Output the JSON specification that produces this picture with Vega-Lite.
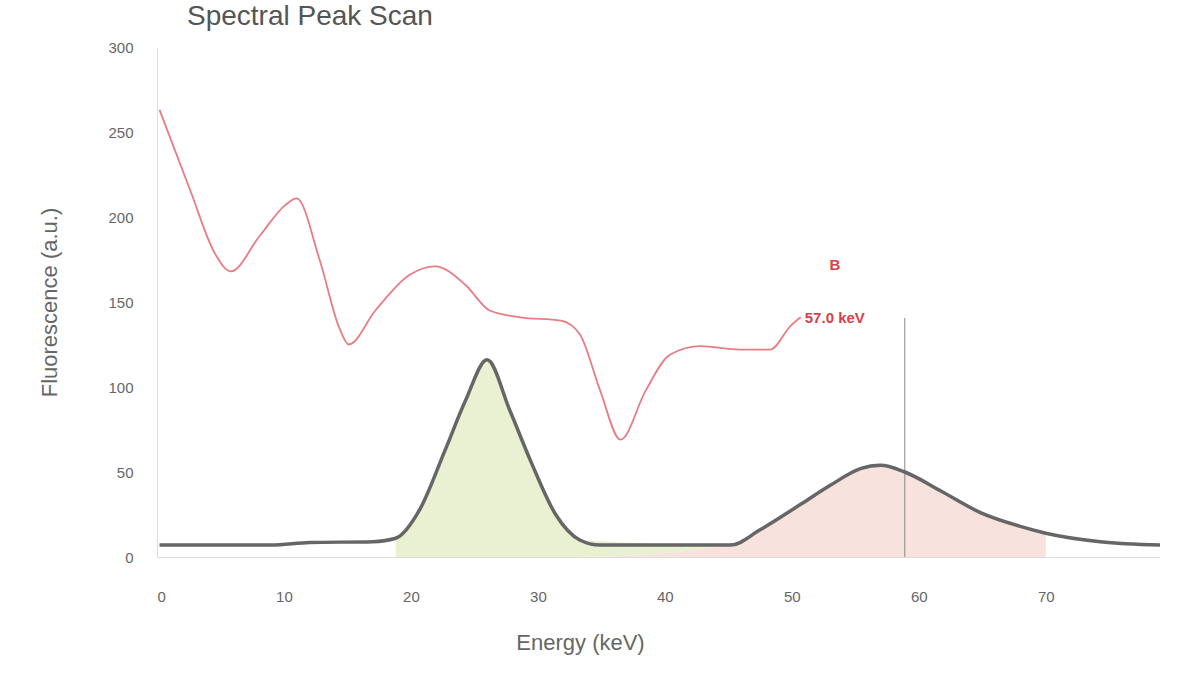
{
  "$schema": "https://vega.github.io/schema/vega-lite/v6.json",
  "width": 1003,
  "height": 510,
  "autosize": {"type": "none"},
  "padding": {"left": 157, "top": 47, "right": 40, "bottom": 118},
  "background": "white",
  "title": {
    "text": "Spectral Peak Scan",
    "anchor": "start",
    "frame": "group",
    "dx": 30,
    "offset": 9,
    "fontSize": 28,
    "font": "Liberation Sans",
    "fontWeight": "normal",
    "color": "#555"
  },
  "config": {
    "view": {"stroke": null},
    "axis": {
      "grid": false,
      "ticks": false,
      "domainColor": "#dddddd",
      "labelColor": "#666",
      "titleColor": "#666",
      "labelFont": "Liberation Sans",
      "titleFont": "Liberation Sans",
      "labelFontSize": 15,
      "titleFontSize": 22,
      "titleFontWeight": "normal"
    }
  },
  "datasets": {
    "signal": [
      {"x": 0.2, "y": 263},
      {"x": 2.6, "y": 216},
      {"x": 4.6, "y": 178},
      {"x": 5.8, "y": 168},
      {"x": 8.1, "y": 189},
      {"x": 10.1, "y": 207},
      {"x": 11.0, "y": 211},
      {"x": 12.8, "y": 175},
      {"x": 14.4, "y": 134},
      {"x": 15.1, "y": 125},
      {"x": 17.2, "y": 145},
      {"x": 19.9, "y": 166},
      {"x": 21.9, "y": 171},
      {"x": 24.3, "y": 160},
      {"x": 26.2, "y": 145},
      {"x": 28.6, "y": 141},
      {"x": 31.8, "y": 139},
      {"x": 33.3, "y": 131},
      {"x": 34.9, "y": 98},
      {"x": 36.5, "y": 69},
      {"x": 38.5, "y": 98},
      {"x": 40.4, "y": 119},
      {"x": 42.8, "y": 124},
      {"x": 45.9, "y": 122},
      {"x": 48.3, "y": 122},
      {"x": 49.9, "y": 136},
      {"x": 50.7, "y": 141}
    ],
    "spectrum": [
      {"x": 0.2, "y": 7, "band": null},
      {"x": 9.0, "y": 7, "band": null},
      {"x": 12.0, "y": 8.5, "band": null},
      {"x": 17.0, "y": 9, "band": null},
      {"x": 18.8, "y": 11, "band": "A"},
      {"x": 20.7, "y": 28, "band": "A"},
      {"x": 22.7, "y": 63, "band": "A"},
      {"x": 24.3, "y": 92, "band": "A"},
      {"x": 26.0, "y": 116, "band": "A"},
      {"x": 27.8, "y": 86, "band": "A"},
      {"x": 29.4, "y": 57, "band": "A"},
      {"x": 31.4, "y": 25, "band": "A"},
      {"x": 33.3, "y": 10, "band": "A"},
      {"x": 34.9, "y": 7, "band": null},
      {"x": 45.2, "y": 7, "band": "B"},
      {"x": 47.5, "y": 16, "band": "B"},
      {"x": 50.7, "y": 31, "band": "B"},
      {"x": 53.0, "y": 42, "band": "B"},
      {"x": 55.4, "y": 52, "band": "B"},
      {"x": 57.0, "y": 54, "band": "B"},
      {"x": 58.9, "y": 50, "band": "B"},
      {"x": 61.7, "y": 39, "band": "B"},
      {"x": 64.9, "y": 26, "band": "B"},
      {"x": 68.0, "y": 18, "band": "B"},
      {"x": 70.0, "y": 14, "band": "B"},
      {"x": 74.3, "y": 9, "band": null},
      {"x": 79.0, "y": 7, "band": null}
    ],
    "marker": [
      {"x": 58.9, "y": 140.6, "label": ["B", "57.0 keV"]}
    ]
  },
  "layer": [
    {
      "data": {"name": "spectrum"},
      "transform": [{"filter": "datum.band != null"}],
      "mark": {"type": "area", "interpolate": "monotone", "opacity": 1},
      "encoding": {
        "x": {"field": "x", "type": "quantitative"},
        "y": {"field": "y", "type": "quantitative"},
        "detail": {"field": "band"},
        "color": {
          "field": "band",
          "type": "nominal",
          "scale": {"domain": ["A", "B"], "range": ["#eaf0d2", "#f7e2dd"]},
          "legend": null
        }
      }
    },
    {
      "data": {"name": "signal"},
      "mark": {"type": "line", "interpolate": "monotone", "color": "#e0505c", "strokeWidth": 1.8, "opacity": 0.75},
      "encoding": {
        "x": {"field": "x", "type": "quantitative"},
        "y": {"field": "y", "type": "quantitative"}
      }
    },
    {
      "data": {"name": "marker"},
      "mark": {"type": "rule", "color": "#888", "strokeWidth": 1},
      "encoding": {
        "x": {"field": "x", "type": "quantitative"},
        "y": {"field": "y", "type": "quantitative"},
        "y2": {"datum": 0}
      }
    },
    {
      "data": {"name": "spectrum"},
      "mark": {"type": "line", "interpolate": "monotone", "color": "#666", "strokeWidth": 3.5},
      "encoding": {
        "x": {
          "field": "x",
          "type": "quantitative",
          "scale": {"domain": [0, 79], "nice": false, "zero": false},
          "axis": {"values": [0, 10, 20, 30, 40, 50, 60, 70], "labelPadding": 32, "titlePadding": 28, "titleX": 423, "titleAnchor": "middle"},
          "title": "Energy (keV)"
        },
        "y": {
          "field": "y",
          "type": "quantitative",
          "scale": {"domain": [0, 300], "nice": false},
          "axis": {"values": [0, 50, 100, 150, 200, 250, 300], "labelPadding": 24, "titlePadding": 46},
          "title": "Fluorescence (a.u.)"
        }
      }
    },
    {
      "data": {"name": "marker"},
      "mark": {"type": "text", "color": "#d9404c", "fontSize": 15, "fontWeight": "bold", "font": "Liberation Sans", "align": "center", "baseline": "middle", "dx": -70, "dy": -53, "lineHeight": 53},
      "encoding": {
        "x": {"field": "x", "type": "quantitative"},
        "y": {"field": "y", "type": "quantitative"},
        "text": {"field": "label"}
      }
    }
  ]
}
